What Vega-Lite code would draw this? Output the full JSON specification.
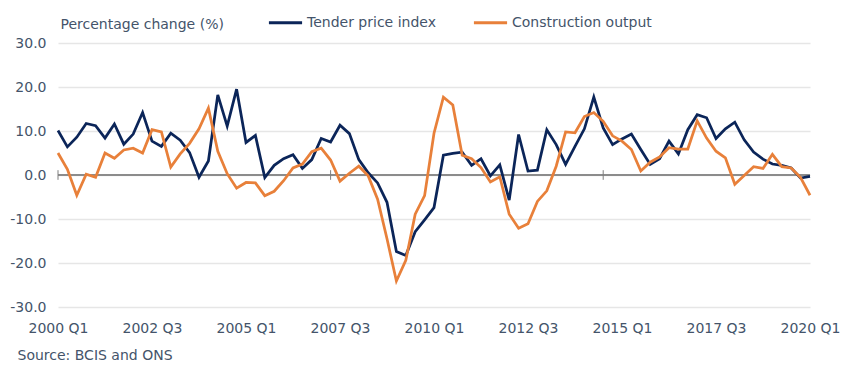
{
  "$schema": "https://vega.github.io/schema/vega-lite/v6.json",
  "autosize": "none",
  "width": 752,
  "height": 264,
  "padding": {"left": 58, "top": 43, "right": 37, "bottom": 63},
  "background": "white",
  "config": {
    "view": {"stroke": null},
    "font": "DejaVu Sans"
  },
  "datasets": {
    "series": [
      {"quarter": "2000 Q1", "Tender price index": 10.1, "Construction output": 5.0},
      {"quarter": "2000 Q2", "Tender price index": 6.4, "Construction output": 1.3},
      {"quarter": "2000 Q3", "Tender price index": 8.6, "Construction output": -4.6},
      {"quarter": "2000 Q4", "Tender price index": 11.7, "Construction output": 0.2},
      {"quarter": "2001 Q1", "Tender price index": 11.2, "Construction output": -0.5},
      {"quarter": "2001 Q2", "Tender price index": 8.4, "Construction output": 5.0},
      {"quarter": "2001 Q3", "Tender price index": 11.6, "Construction output": 3.8},
      {"quarter": "2001 Q4", "Tender price index": 7.0, "Construction output": 5.7},
      {"quarter": "2002 Q1", "Tender price index": 9.3, "Construction output": 6.1},
      {"quarter": "2002 Q2", "Tender price index": 14.2, "Construction output": 5.0},
      {"quarter": "2002 Q3", "Tender price index": 7.7, "Construction output": 10.3},
      {"quarter": "2002 Q4", "Tender price index": 6.5, "Construction output": 9.8},
      {"quarter": "2003 Q1", "Tender price index": 9.5, "Construction output": 1.8},
      {"quarter": "2003 Q2", "Tender price index": 7.9, "Construction output": 4.8},
      {"quarter": "2003 Q3", "Tender price index": 5.1, "Construction output": 7.2},
      {"quarter": "2003 Q4", "Tender price index": -0.5, "Construction output": 10.5},
      {"quarter": "2004 Q1", "Tender price index": 3.2, "Construction output": 15.2},
      {"quarter": "2004 Q2", "Tender price index": 18.2, "Construction output": 5.4},
      {"quarter": "2004 Q3", "Tender price index": 11.1, "Construction output": 0.3},
      {"quarter": "2004 Q4", "Tender price index": 19.5, "Construction output": -3.0},
      {"quarter": "2005 Q1", "Tender price index": 7.4, "Construction output": -1.7},
      {"quarter": "2005 Q2", "Tender price index": 9.0, "Construction output": -1.8},
      {"quarter": "2005 Q3", "Tender price index": -0.6, "Construction output": -4.7},
      {"quarter": "2005 Q4", "Tender price index": 2.2, "Construction output": -3.7},
      {"quarter": "2006 Q1", "Tender price index": 3.7, "Construction output": -1.3},
      {"quarter": "2006 Q2", "Tender price index": 4.6, "Construction output": 1.6},
      {"quarter": "2006 Q3", "Tender price index": 1.5, "Construction output": 2.5},
      {"quarter": "2006 Q4", "Tender price index": 3.5, "Construction output": 5.3},
      {"quarter": "2007 Q1", "Tender price index": 8.3, "Construction output": 6.1},
      {"quarter": "2007 Q2", "Tender price index": 7.5, "Construction output": 3.4},
      {"quarter": "2007 Q3", "Tender price index": 11.3, "Construction output": -1.4},
      {"quarter": "2007 Q4", "Tender price index": 9.4, "Construction output": 0.4},
      {"quarter": "2008 Q1", "Tender price index": 3.5, "Construction output": 2.0},
      {"quarter": "2008 Q2", "Tender price index": 0.5, "Construction output": -0.2},
      {"quarter": "2008 Q3", "Tender price index": -1.8, "Construction output": -5.5},
      {"quarter": "2008 Q4", "Tender price index": -6.2, "Construction output": -14.5},
      {"quarter": "2009 Q1", "Tender price index": -17.4, "Construction output": -24.1},
      {"quarter": "2009 Q2", "Tender price index": -18.3, "Construction output": -19.4},
      {"quarter": "2009 Q3", "Tender price index": -12.9, "Construction output": -8.9},
      {"quarter": "2009 Q4", "Tender price index": -10.2, "Construction output": -4.7},
      {"quarter": "2010 Q1", "Tender price index": -7.4, "Construction output": 9.5},
      {"quarter": "2010 Q2", "Tender price index": 4.5, "Construction output": 17.7},
      {"quarter": "2010 Q3", "Tender price index": 4.9, "Construction output": 15.9},
      {"quarter": "2010 Q4", "Tender price index": 5.2, "Construction output": 4.5},
      {"quarter": "2011 Q1", "Tender price index": 2.2, "Construction output": 3.7},
      {"quarter": "2011 Q2", "Tender price index": 3.7, "Construction output": 1.7},
      {"quarter": "2011 Q3", "Tender price index": -0.2, "Construction output": -1.6},
      {"quarter": "2011 Q4", "Tender price index": 2.3, "Construction output": -0.4},
      {"quarter": "2012 Q1", "Tender price index": -5.7, "Construction output": -8.9},
      {"quarter": "2012 Q2", "Tender price index": 9.2, "Construction output": -12.1},
      {"quarter": "2012 Q3", "Tender price index": 0.9, "Construction output": -11.1},
      {"quarter": "2012 Q4", "Tender price index": 1.1, "Construction output": -6.0},
      {"quarter": "2013 Q1", "Tender price index": 10.3, "Construction output": -3.6},
      {"quarter": "2013 Q2", "Tender price index": 6.9, "Construction output": 2.0},
      {"quarter": "2013 Q3", "Tender price index": 2.4, "Construction output": 9.8},
      {"quarter": "2013 Q4", "Tender price index": 6.5, "Construction output": 9.6},
      {"quarter": "2014 Q1", "Tender price index": 10.5, "Construction output": 13.3},
      {"quarter": "2014 Q2", "Tender price index": 17.7, "Construction output": 14.2},
      {"quarter": "2014 Q3", "Tender price index": 10.7, "Construction output": 12.2},
      {"quarter": "2014 Q4", "Tender price index": 6.9, "Construction output": 8.9},
      {"quarter": "2015 Q1", "Tender price index": 8.2, "Construction output": 7.7},
      {"quarter": "2015 Q2", "Tender price index": 9.3, "Construction output": 5.8},
      {"quarter": "2015 Q3", "Tender price index": 5.8, "Construction output": 0.9},
      {"quarter": "2015 Q4", "Tender price index": 2.4, "Construction output": 2.9},
      {"quarter": "2016 Q1", "Tender price index": 3.7, "Construction output": 4.1},
      {"quarter": "2016 Q2", "Tender price index": 7.7, "Construction output": 6.2},
      {"quarter": "2016 Q3", "Tender price index": 4.8, "Construction output": 5.9},
      {"quarter": "2016 Q4", "Tender price index": 10.3, "Construction output": 5.9},
      {"quarter": "2017 Q1", "Tender price index": 13.7, "Construction output": 12.3},
      {"quarter": "2017 Q2", "Tender price index": 13.0, "Construction output": 8.4},
      {"quarter": "2017 Q3", "Tender price index": 8.3, "Construction output": 5.4},
      {"quarter": "2017 Q4", "Tender price index": 10.5, "Construction output": 3.9},
      {"quarter": "2018 Q1", "Tender price index": 12.0, "Construction output": -2.1},
      {"quarter": "2018 Q2", "Tender price index": 8.0, "Construction output": -0.1},
      {"quarter": "2018 Q3", "Tender price index": 5.2, "Construction output": 1.9},
      {"quarter": "2018 Q4", "Tender price index": 3.6, "Construction output": 1.5},
      {"quarter": "2019 Q1", "Tender price index": 2.5, "Construction output": 4.7},
      {"quarter": "2019 Q2", "Tender price index": 2.2, "Construction output": 1.9},
      {"quarter": "2019 Q3", "Tender price index": 1.6, "Construction output": 1.6},
      {"quarter": "2019 Q4", "Tender price index": -0.7, "Construction output": -0.6},
      {"quarter": "2020 Q1", "Tender price index": -0.3, "Construction output": -4.6}
    ],
    "ticks": [
      {"quarter": "2000 Q1"},
      {"quarter": "2007 Q2"},
      {"quarter": "2014 Q3"}
    ]
  },
  "layer": [
    {
      "data": {"name": "series"},
      "mark": {"type": "rule", "color": "#8C8C8C", "strokeWidth": 1.5},
      "encoding": {"y": {"datum": 0, "type": "quantitative"}}
    },
    {
      "data": {"name": "ticks"},
      "mark": {"type": "rule", "color": "#7F7F7F", "strokeWidth": 1},
      "encoding": {
        "x": {"field": "quarter", "type": "ordinal"},
        "y": {"datum": -1.1, "type": "quantitative"},
        "y2": {"datum": 1.1}
      }
    },
    {
      "data": {"name": "series"},
      "transform": [
        {"fold": ["Tender price index", "Construction output"], "as": ["series", "value"]}
      ],
      "mark": {"type": "line", "strokeWidth": 2.75, "strokeJoin": "miter"},
      "encoding": {
        "x": {
          "field": "quarter",
          "type": "ordinal",
          "scale": {"type": "point", "padding": 0},
          "axis": {
            "values": ["2000 Q1", "2002 Q3", "2005 Q1", "2007 Q3", "2010 Q1", "2012 Q3", "2015 Q1", "2017 Q3", "2020 Q1"],
            "labelAngle": 0,
            "labelAlign": "center",
            "labelBaseline": "top",
            "labelFlush": false,
            "domain": false,
            "ticks": false,
            "grid": false,
            "labelPadding": 14,
            "labelFontSize": 14,
            "labelFont": "DejaVu Sans",
            "labelColor": "#44546A",
            "title": "Source: BCIS and ONS",
            "titleX": -41,
            "titleY": 48,
            "titleAnchor": null,
            "titleAlign": "left",
            "titleBaseline": "middle",
            "titleFontSize": 14,
            "titleFont": "DejaVu Sans",
            "titleFontWeight": "normal",
            "titleColor": "#44546A"
          }
        },
        "y": {
          "field": "value",
          "type": "quantitative",
          "scale": {"domain": [-30, 30], "nice": false, "zero": false},
          "axis": {
            "values": [-30, -20, -10, 0, 10, 20, 30],
            "labelExpr": "replace(format(datum.value, '.1f'), '\u2212', '-')",
            "domain": false,
            "ticks": false,
            "grid": true,
            "gridColor": "#E6E6E6",
            "gridWidth": 1.5,
            "labelPadding": 12,
            "labelFontSize": 14,
            "labelFont": "DejaVu Sans",
            "labelColor": "#44546A",
            "title": "Percentage change (%)",
            "titleAngle": 0,
            "titleX": 2,
            "titleY": -19,
            "titleAlign": "left",
            "titleBaseline": "middle",
            "titleAnchor": null,
            "titleFontSize": 14,
            "titleFont": "DejaVu Sans",
            "titleFontWeight": "normal",
            "titleColor": "#44546A"
          }
        },
        "color": {
          "field": "series",
          "type": "nominal",
          "scale": {
            "domain": ["Tender price index", "Construction output"],
            "range": ["#0B2559", "#E8803A"]
          },
          "legend": {
            "orient": "none",
            "legendX": 209,
            "legendY": -39,
            "direction": "horizontal",
            "title": null,
            "symbolType": "stroke",
            "symbolStrokeWidth": 3,
            "symbolSize": 1100,
            "labelOffset": 3,
            "columnPadding": 31,
            "labelFontSize": 14,
            "labelFont": "DejaVu Sans",
            "labelColor": "#44546A",
            "labelLimit": 300,
            "padding": 0
          }
        }
      }
    }
  ]
}
